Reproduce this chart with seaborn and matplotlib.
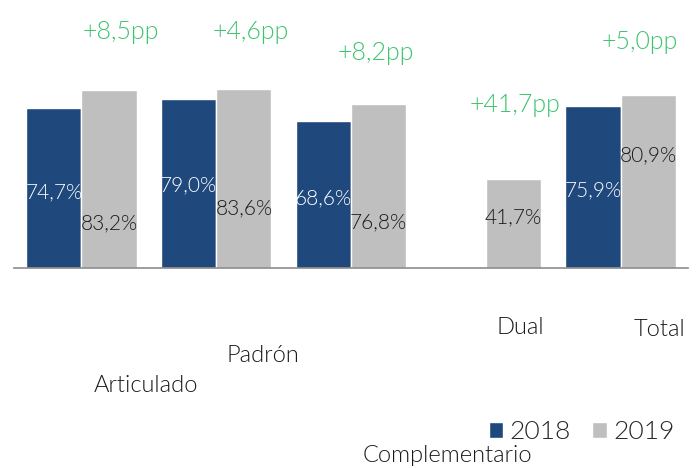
import numpy as np
import pandas as pd
import matplotlib
matplotlib.use("Agg")
import matplotlib.pyplot as plt
import seaborn as sns

categories = ["Articulado", "Padrón", "Complementario", "Dual", "Total"]
years = ["2018", "2019"]
values_2018 = [74.7, 79.0, 68.6, np.nan, 75.9]
values_2019 = [83.2, 83.6, 76.8, 41.7, 80.9]
labels_2018 = ["74,7%", "79,0%", "68,6%", "", "75,9%"]
labels_2019 = ["83,2%", "83,6%", "76,8%", "41,7%", "80,9%"]
change_labels = ["+8,5pp", "+4,6pp", "+8,2pp", "+41,7pp", "+5,0pp"]

# label placement (data units / points)
y_lab_2018 = [35.5, 38.8, 32.7, 0, 36.4]
y_lab_2019 = [21.0, 28.0, 21.5, 23.8, 52.8]
chg_dx = [0.294, 0.258, 0.186, 0.217, 0.144]
chg_y = [110.3, 110.3, 100.5, 76.2, 105.6]
cat_dx = [65, 47, 96, 35, 39]       # pixels right of category centre
cat_y = [386, 355, 456, 327, 330]    # pixel row of label centre

BLUE = "#1F487C"
GRAY = "#BFBFBF"
GREEN = "#3CC46E"
FW = 300

sns.set_style("white")
plt.rcParams["font.family"] = ["Lato", "DejaVu Sans"]
plt.rcParams["font.weight"] = FW

df = pd.DataFrame({
    "categoria": categories * 2,
    "year": [years[0]] * 5 + [years[1]] * 5,
    "valor": values_2018 + values_2019,
})

W, H = 697, 468
fig = plt.figure(figsize=(W / 100, H / 100), dpi=100)
ax = fig.add_axes([14 / W, (H - 268) / H, 674 / W, 214 / H])

sns.barplot(data=df, x="categoria", y="valor", hue="year", order=categories,
            hue_order=years, palette=[BLUE, GRAY], width=0.82, gap=0,
            saturation=1, errorbar=None, ax=ax, legend=True)

ax.set_xlim(-0.5, 4.5)
ax.set_ylim(0, 100)
ax.set_xlabel("")
ax.set_ylabel("")
ax.set_yticks([])
ax.set_xticks(np.arange(-0.5, 4.6, 1.0))
ax.set_xticklabels([])
ax.tick_params(axis="x", length=7, width=1.2, color="#8C8C8C", direction="out")
for s in ["top", "right", "left"]:
    ax.spines[s].set_visible(False)
ax.spines["bottom"].set_color("#8C8C8C")
ax.spines["bottom"].set_linewidth(1.2)

bw = 0.41
for i in range(len(categories)):
    if labels_2018[i]:
        ax.text(i - bw / 2, y_lab_2018[i], labels_2018[i], ha="center", va="center",
                color="white", fontsize=15, fontweight=FW)
    ax.text(i + bw / 2, y_lab_2019[i], labels_2019[i], ha="center", va="center",
            color="#1A1A1A", fontsize=15, fontweight=FW)
    ax.text(i + chg_dx[i], chg_y[i], change_labels[i], ha="center", va="center",
            color=GREEN, fontsize=18, fontweight=FW, clip_on=False)

# category names, staggered below the axis
for i, name in enumerate(categories):
    cx = 14 + (i + 0.5) * 674 / 5 + cat_dx[i]
    fig.text(cx / W, 1 - cat_y[i] / H, name, ha="center", va="center",
             fontsize=17, fontweight=FW, color="#1A1A1A")

handles, lbls = ax.get_legend_handles_labels()
ax.get_legend().remove()
fig.legend(handles, lbls, loc="center right", bbox_to_anchor=(688 / W, 1 - 432 / H),
           ncol=2, frameon=False, prop={"size": 19, "weight": FW},
           handlelength=0.55, handleheight=0.55,
           handletextpad=0.25, columnspacing=0.8, borderpad=0)

fig.savefig("out.png", dpi=100)
